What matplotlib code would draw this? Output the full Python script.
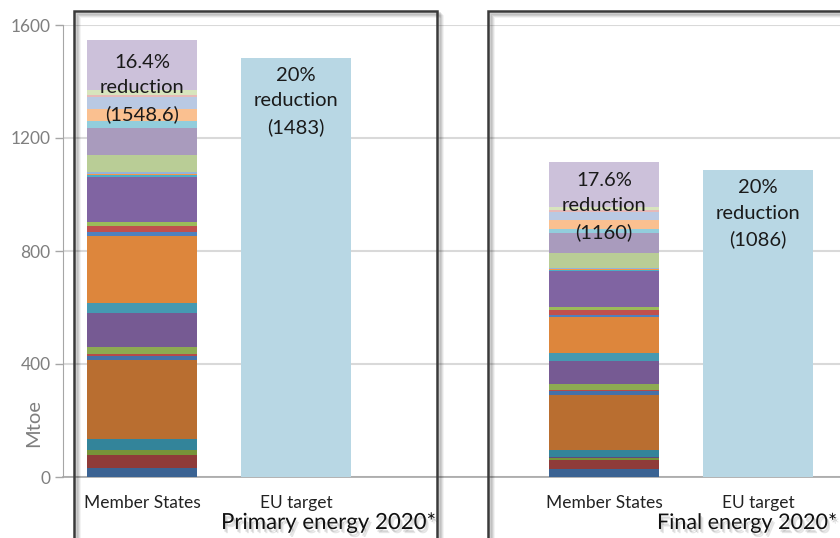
import matplotlib
matplotlib.use("Agg")
import matplotlib.pyplot as plt
from matplotlib.patches import Rectangle
import matplotlib.patheffects as pe

plt.rcParams['font.family'] = ['Lato', 'DejaVu Sans']

# ---- data ----
countries = ["AT", "BE", "BG", "CY", "CZ", "DE", "DK", "EE", "EL", "ES", "FI", "FR", "HR", "HU",
             "IE", "IT", "LT", "LU", "LV", "MT", "NL", "PL", "PT", "RO", "SE", "SI", "SK", "UK"]
primary_ms = [33.5, 43.7, 16.9, 2.2, 39.6, 276.6, 17.4, 6.5, 24.7, 119.8, 35.9, 237.5, 11.5, 24.1,
              13.9, 158.0, 6.5, 4.5, 5.4, 0.7, 60.7, 96.4, 22.5, 43.0, 43.4, 7.3, 16.4, 177.6]
final_ms = [28, 32, 9, 2, 23, 195, 15, 3, 22, 83, 26, 130, 7, 15,
            12, 128, 3, 3, 4, 0.5, 53, 70, 15, 30, 31, 6, 9, 159.5]
eu_targets = [1483, 1086]
category_labels = ["Member States", "EU target", "", "Member States", "EU target"]
ms_positions = [0, 3]
eu_positions = [1, 4]
ms_labels = ["16.4%\nreduction\n(1548.6)", "17.6%\nreduction\n(1160)"]
eu_labels = ["20%\nreduction\n(1483)", "20%\nreduction\n(1086)"]
group_titles = ["Primary energy 2020*", "Final energy 2020*"]

colors = ["#3B6393", "#8F3B39", "#779339", "#5F4A7E", "#33849A", "#B96E30",
          "#4571A8", "#B64B48", "#8DAA52", "#765A93", "#4599B2", "#DD863C",
          "#4F81BD", "#C0504D", "#9BBB59", "#8064A2", "#4BACC6", "#F79646",
          "#95B3D7", "#D99694", "#B9CD96", "#A99BBD", "#92CDDC", "#FAC090",
          "#B9C9E3", "#E6B9B8", "#D7E4BD", "#CCC1DA"]

W, H = 840, 538
fig = plt.figure(figsize=(W / 100, H / 100), dpi=100)
ax = fig.add_axes([63 / W, 1 - 477 / H, 777 / W, 452 / H])

bw = 0.714
for pos, vals in zip(ms_positions, [primary_ms, final_ms]):
    bottom = 0
    for v, c in zip(vals, colors):
        ax.bar(pos, v, bw, bottom=bottom, color=c, linewidth=0, zorder=3)
        bottom += v
ax.bar(eu_positions, eu_targets, bw, color="#B8D7E4", linewidth=0, zorder=3)

ms_tops = [sum(primary_ms), sum(final_ms)]
label_offsets = [-10, -7]
for pos, top, lab, off in zip(ms_positions, ms_tops, ms_labels, label_offsets):
    ax.annotate(lab, (pos, top), xytext=(0, off), textcoords="offset points",
                ha="center", va="top", fontsize=14.5, color="#1a1a1a",
                linespacing=1.6, zorder=5)
for pos, top, lab in zip(eu_positions, eu_targets, eu_labels):
    ax.annotate(lab, (pos, top), xytext=(0, -6.5), textcoords="offset points",
                ha="center", va="top", fontsize=14.5, color="#1a1a1a",
                linespacing=1.6, zorder=5)

ax.set_xlim(-0.513, 4.532)
ax.set_ylim(0, 1600)
ax.set_yticks([0, 400, 800, 1200, 1600])
ax.set_xticks(range(len(category_labels)))
ax.set_xticklabels(category_labels, fontsize=12.5, color="#222222")
ax.tick_params(axis="x", length=0, pad=13)
ax.tick_params(axis="y", length=6, color="#a6a6a6", labelcolor="#7f7f7f",
               labelsize=12.5, pad=3, width=1)
ax.grid(axis="y", color="#d9d9d9", linewidth=1.5, zorder=0)
ax.set_axisbelow(True)
for s in ["top", "right"]:
    ax.spines[s].set_visible(False)
ax.spines["left"].set_color("#a6a6a6")
ax.spines["bottom"].set_color("#a6a6a6")
ax.spines["bottom"].set_linewidth(1.2)
ax.set_ylabel("Mtoe", fontsize=14.5, color="#7f7f7f")
ax.yaxis.set_label_coords(-0.027, 0.12)


def fx(x):
    return x / W


def fy(y):
    return 1 - y / H


# framed boxes with soft shadow
boxes = [(73.5, 10.5, 436.5, 560), (487.5, 11, 900, 560)]
for (x0, y0, x1, y1) in boxes:
    for k, a in [(5, 0.05), (4, 0.07), (3, 0.09), (2, 0.12)]:
        fig.add_artist(Rectangle((fx(x0 + k), fy(y1 + k)), fx(x1 - x0), (y1 - y0) / H,
                                 fill=False, edgecolor="#000000", alpha=a, linewidth=2,
                                 transform=fig.transFigure, zorder=8))
    fig.add_artist(Rectangle((fx(x0), fy(y1)), fx(x1 - x0), (y1 - y0) / H,
                             fill=False, edgecolor="#3a3a3a", linewidth=1.8,
                             transform=fig.transFigure, zorder=9))

shadow = [pe.SimplePatchShadow(offset=(2, -3), shadow_rgbFace="#000000", alpha=0.10),
          pe.SimplePatchShadow(offset=(1, -2), shadow_rgbFace="#000000", alpha=0.12),
          pe.Normal()]
fig.text(fx(437), fy(523), group_titles[0], ha="right", va="center", fontsize=16,
         color="#111111", path_effects=shadow, zorder=10)
fig.text(fx(837), fy(523), group_titles[1], ha="right", va="center", fontsize=15.5,
         color="#111111", path_effects=shadow, zorder=10)

fig.savefig("out.png", dpi=100)
